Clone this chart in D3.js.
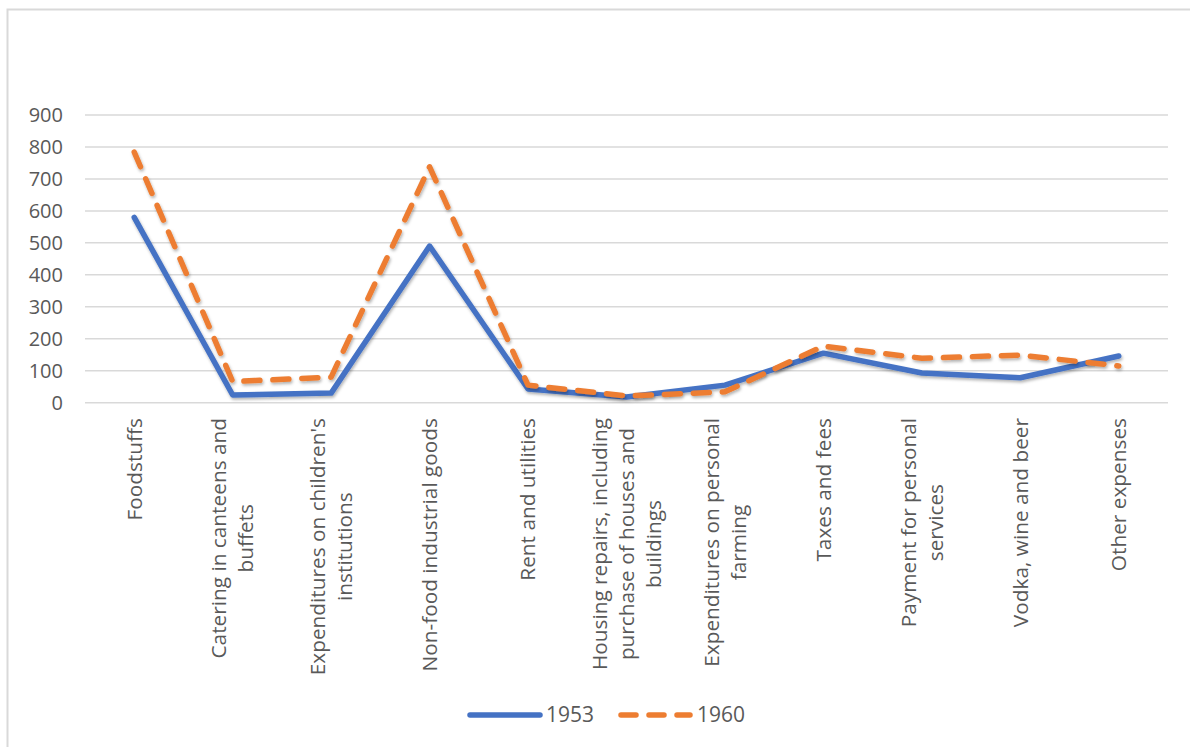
<!DOCTYPE html>
<html>
<head>
<meta charset="utf-8">
<script src="https://cdn.jsdelivr.net/npm/d3@7"></script>
<style>
html,body{margin:0;padding:0;background:#fff;}
svg{display:block;}
text{font-family:"Open Sans",sans-serif;fill:#595959;}
</style>
</head>
<body>
<svg id="chart" width="1190" height="747"></svg>
<script>
const categories = [
  "Foodstuffs",
  "Catering in canteens and\nbuffets",
  "Expenditures on children's\ninstitutions",
  "Non-food industrial goods",
  "Rent and utilities",
  "Housing repairs, including\npurchase of houses and\nbuildings",
  "Expenditures on personal\nfarming",
  "Taxes and fees",
  "Payment for personal\nservices",
  "Vodka, wine and beer",
  "Other expenses"
];
const values1953 = [580, 24, 30, 490, 43, 18, 55, 155, 93, 78, 146];
const values1960 = [784, 66, 80, 738, 55, 21, 34, 177, 139, 149, 115];
const yTicks = [0, 100, 200, 300, 400, 500, 600, 700, 800, 900];
const seriesNames = ["1953", "1960"];

(function () {
const svg = d3.select("#chart");

// chart border
svg.append("rect").attr("x", 7.5).attr("y", 9.5).attr("width", 1200).attr("height", 800)
  .attr("fill", "none").attr("stroke", "#d9d9d9").attr("stroke-width", 2);

const defs = svg.append("defs");
const f = defs.append("filter").attr("id", "shadow").attr("x", "-5%").attr("y", "-5%").attr("width", "110%").attr("height", "120%");
f.append("feDropShadow").attr("dx", 1).attr("dy", 2).attr("stdDeviation", 1.6)
  .attr("flood-color", "#000").attr("flood-opacity", 0.3);

const pLeft = 85, pRight = 1168, pTop = 115, pBottom = 402.7;
const x = d3.scaleBand().domain(categories).range([pLeft, pRight]);
const y = d3.scaleLinear().domain([0, 900]).range([pBottom, pTop]);

// gridlines
svg.append("g").selectAll("line").data(yTicks).join("line")
  .attr("x1", pLeft).attr("x2", pRight)
  .attr("y1", d => y(d)).attr("y2", d => y(d))
  .attr("stroke", "#d9d9d9").attr("stroke-width", 1.5);

// y axis labels
const yAxis = d3.axisLeft(y).tickValues(yTicks).tickSize(0).tickPadding(0);
const gy = svg.append("g").attr("transform", `translate(63,0)`).call(yAxis);
gy.select(".domain").remove();
gy.selectAll("text").attr("font-size", 20).style("font-family", "'Open Sans',sans-serif").attr("fill", "#595959");

// x category labels
const cx = d => x(d) + x.bandwidth() / 2;
const labG = svg.append("g");
categories.forEach(c => {
  const lines = c.split("\n");
  const g = labG.append("g").attr("transform", `translate(${cx(c)},418) rotate(-90)`);
  const n = lines.length, L = 27;
  const texts = lines.map((ln, i) => g.append("text")
    .attr("font-size", 20.8)
    .attr("text-anchor", "middle")
    .attr("y", (i - (n - 1) / 2) * L)
    .attr("dy", "0.35em")
    .text(ln));
  const maxLen = d3.max(texts, t => t.node().getComputedTextLength());
  texts.forEach(t => t.attr("x", -maxLen / 2));
});

// lines
const line = d3.line().x((d, i) => cx(categories[i])).y(d => y(d));
svg.append("path").datum(values1953).attr("d", line)
  .attr("fill", "none").attr("stroke", "#4472C4").attr("stroke-width", 5.5)
  .attr("stroke-linejoin", "round").attr("stroke-linecap", "round").attr("filter", "url(#shadow)");
svg.append("path").datum(values1960).attr("d", line)
  .attr("fill", "none").attr("stroke", "#ED7D31").attr("stroke-width", 5.5)
  .attr("stroke-dasharray", "16,13")
  .attr("stroke-linejoin", "round").attr("stroke-linecap", "round").attr("filter", "url(#shadow)");

// legend
const leg = svg.append("g");
const legItems = [
  {name: seriesNames[0], color: "#4472C4", dash: null, x1: 470, x2: 540, tx: 546},
  {name: seriesNames[1], color: "#ED7D31", dash: "15,13", x1: 621, x2: 690, tx: 697}
];
legItems.forEach(it => {
  leg.append("line").attr("x1", it.x1).attr("x2", it.x2).attr("y1", 715).attr("y2", 715)
    .attr("stroke", it.color).attr("stroke-width", 5.5).attr("stroke-linecap", "round")
    .attr("stroke-dasharray", it.dash);
  leg.append("text").attr("x", it.tx).attr("y", 715).attr("dy", "0.35em")
    .attr("font-size", 21).text(it.name);
});
})();
</script>
</body>
</html>
